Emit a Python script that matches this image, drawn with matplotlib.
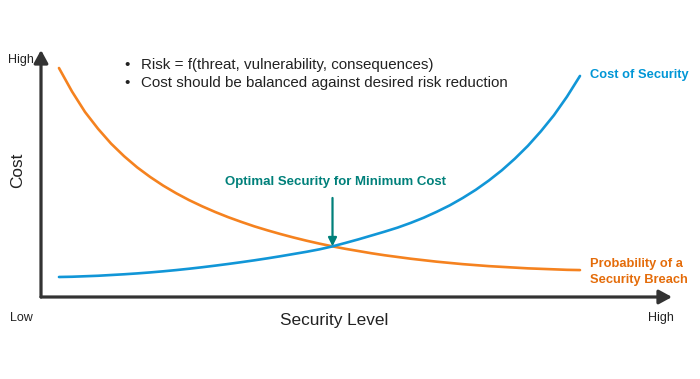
import matplotlib
matplotlib.use("Agg")
import matplotlib.pyplot as plt

plt.rcParams['font.family'] = ['Liberation Sans', 'DejaVu Sans']

# Data (security level 0..10, cost 0..100)
security_level = [0, 0.25, 0.5, 0.75, 1, 1.25, 1.5, 1.75, 2, 2.25, 2.5,
                  2.75, 3, 3.25, 3.5, 3.75, 4, 4.25, 4.5, 4.75, 5,
                  5.25, 5.5, 5.75, 6, 6.25, 6.5, 6.75, 7, 7.25, 7.5,
                  7.75, 8, 8.25, 8.5, 8.75, 9, 9.25, 9.5, 9.75, 10]
cost_of_security = [8.1, 8.2, 8.4, 8.6, 8.9, 9.2, 9.55, 9.95, 10.4, 10.9, 11.45,
                    12.05, 12.7, 13.38, 14.1, 14.85, 15.65, 16.5, 17.4, 18.3, 19.3,
                    20.5, 21.9, 23.35, 24.9, 26.45, 28.1, 30.0, 32.1, 34.5, 37.1,
                    40.1, 43.4, 47.15, 51.3, 56.0, 61.2, 67.1, 73.6, 81.1, 89.5]
breach_probability = [92.7, 83.2, 74.9, 68.1, 62.1, 57.0, 52.5, 48.6, 45.1, 42.0, 39.2,
                      36.7, 34.4, 32.3, 30.4, 28.6, 27.0, 25.5, 24.1, 22.8, 21.6,
                      20.5, 19.5, 18.6, 17.7, 16.9, 16.2, 15.5, 14.9, 14.3, 13.8,
                      13.3, 12.9, 12.5, 12.2, 11.9, 11.6, 11.4, 11.2, 11.0, 10.9]
optimal_point = (5.25, 20.5)

bullets = ["Risk = f(threat, vulnerability, consequences)",
           "Cost should be balanced against desired risk reduction"]

# Colours
blue = '#1196d7'
orange = '#f5821f'
teal = '#00807a'
axis_grey = '#333333'
text_dark = '#222222'

W, H = 700, 379
fig = plt.figure(figsize=(W / 100, H / 100), dpi=100)


def fx(px):
    return px / W


def fy(py):
    return 1 - py / H


# axes box: y axis at x=41px, x axis at y=297px, arrows end at 672 / 50
ax = fig.add_axes([fx(41), fy(297), fx(672 - 41), (297 - 50) / H])
ax.set_xlim(-0.345, 11.766)
ax.set_ylim(0, 100)
ax.axis('off')

# Curves
ax.plot(security_level, breach_probability, color=orange, lw=1.9,
        solid_capstyle='round', solid_joinstyle='round')
ax.plot(security_level, cost_of_security, color=blue, lw=1.9,
        solid_capstyle='round', solid_joinstyle='round')

# Axis arrows
arrow_style = dict(arrowstyle='-|>,head_length=0.55,head_width=0.3', lw=2.3,
                   color=axis_grey, shrinkA=0, shrinkB=0, mutation_scale=14)
ax.annotate('', xy=(0, 1), xytext=(0, 0), xycoords='axes fraction',
            arrowprops=arrow_style)
ax.annotate('', xy=(1, 0), xytext=(0, 0), xycoords='axes fraction',
            arrowprops=arrow_style)

# Optimal point: label plus a vertical arrow down to the crossing
ax.text(5.3, 44.0, 'Optimal Security for Minimum Cost', ha='center', va='bottom',
        color=teal, fontsize=9.5, fontweight='bold')
ax.annotate('', xy=optimal_point, xytext=(optimal_point[0], 40.1),
            arrowprops=dict(arrowstyle='-|>,head_length=0.5,head_width=0.25',
                            color=teal, lw=1.6, shrinkA=0, shrinkB=0,
                            mutation_scale=10))

# Axis labels
fig.text(fx(34), fy(60), 'High', ha='right', va='center', fontsize=9, color=text_dark)
fig.text(fx(18), fy(170), 'Cost', ha='center', va='center', rotation=90,
         fontsize=12.4, color=text_dark)
fig.text(fx(10), fy(318), 'Low', ha='left', va='center', fontsize=9, color=text_dark)
fig.text(fx(334), fy(320), 'Security Level', ha='center', va='center',
         fontsize=12.4, color=text_dark)
fig.text(fx(648), fy(318), 'High', ha='left', va='center', fontsize=9, color=text_dark)

# Series labels
fig.text(fx(590), fy(75), 'Cost of Security', ha='left', va='center',
         fontsize=9.3, fontweight='bold', color='#0096d6')
fig.text(fx(590), fy(264), 'Probability of a', ha='left', va='center',
         fontsize=9.3, fontweight='bold', color='#e46c0a')
fig.text(fx(590), fy(280), 'Security Breach', ha='left', va='center',
         fontsize=9.3, fontweight='bold', color='#e46c0a')

# Bullet notes
for i, line in enumerate(bullets):
    y = 65 + i * 18
    fig.text(fx(124), fy(y), '\u2022', ha='left', va='center', fontsize=10.9, color=text_dark)
    fig.text(fx(141), fy(y), line, ha='left', va='center', fontsize=10.9, color=text_dark)

fig.savefig('out.png', dpi=100)
